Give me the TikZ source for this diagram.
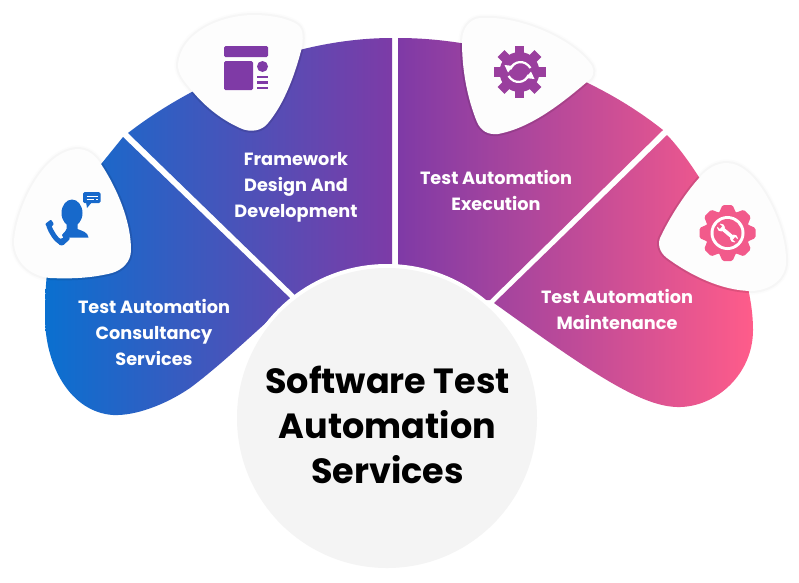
\documentclass[tikz,border=0pt]{standalone}
\usepackage{fontspec}
\setmainfont{Poppins}
\definecolor{gradA}{HTML}{0A70D0}
\definecolor{gradB}{HTML}{7F3AA6}
\definecolor{gradC}{HTML}{FF5C8A}
\definecolor{iconA}{HTML}{1769CB}
\definecolor{iconB}{HTML}{7F3AA6}
\definecolor{iconC}{HTML}{9A3F9E}
\definecolor{iconD}{HTML}{F25A8B}
\definecolor{haloOut}{HTML}{FCFCFC}
\definecolor{haloIn}{HTML}{F6F6F6}
\definecolor{blobfill}{HTML}{FDFDFD}
\definecolor{hubfill}{HTML}{F4F4F4}
\pgfdeclarehorizontalshading{bandgrad}{100bp}{color(0bp)=(gradA); color(25bp)=(gradA); color(50bp)=(gradB); color(75bp)=(gradC); color(100bp)=(gradC)}
\tikzset{
  bandlabel/.style={text=white,font=\fontsize{17.7}{17.7}\selectfont\bfseries,anchor=base,inner sep=0pt},
  hublabel/.style={text=black,font=\fontsize{35}{35}\selectfont\bfseries,anchor=base,inner sep=0pt},
  haloouter/.style={draw=haloOut,line width=7pt,line join=round},
  haloinner/.style={draw=haloIn,line width=4pt,line join=round},
  blobface/.style={fill=blobfill},
  blobshadow/.style={draw=black,draw opacity=.10,line width=4pt},
}
\def\blobA{(77,149) .. controls (88,149) and (95,155) .. (101,164) .. controls (118,190) and (131,222) .. (131,250) .. controls (131,262) and (122,270) .. (112,273) .. controls (92,278) and (72,279) .. (50,278) .. controls (30,276) and (15,262) .. (14,243) .. controls (14,218) and (38,152) .. (77,149) -- cycle}
\def\blobB{(254,15) .. controls (272,15) and (290,19) .. (298,25) .. controls (304,30) and (303,40) .. (302,47) .. controls (295,75) and (284,104) .. (268,123) .. controls (262,131) and (250,133) .. (240,128) .. controls (220,119) and (203,105) .. (189,87) .. controls (184,81) and (178,74) .. (178,65) .. controls (180,33) and (220,15) .. (254,15) -- cycle}
\def\blobC{(480,18) .. controls (520,15) and (575,40) .. (592,66) .. controls (595,72) and (593,78) .. (588,81) .. controls (560,105) and (530,128) .. (498,134) .. controls (488,135) and (481,131) .. (477,122) .. controls (468,100) and (462,72) .. (462,42) .. controls (462,28) and (470,19) .. (480,18) -- cycle}
\def\blobD{(727,163) .. controls (757,163) and (787,225) .. (786,262) .. controls (786,278) and (772,290) .. (752,291) .. controls (722,291) and (690,275) .. (667,258) .. controls (659,252) and (657,243) .. (661,236) .. controls (673,211) and (692,184) .. (705,172) .. controls (712,166) and (719,163) .. (727,163) -- cycle}
\begin{document}
\begin{tikzpicture}[x=1pt,y=-1pt]
\useasboundingbox (0,0) rectangle (799,582);
\fill[white] (0,0) rectangle (799,582);
% halos lie under the coloured bands
\foreach \b in {\blobA,\blobB,\blobC,\blobD}{\path[haloouter] \b;}
\foreach \b in {\blobA,\blobB,\blobC,\blobD}{\path[haloinner] \b;}
% gradient bands
\begin{scope}
\clip (123,137) -- (292,300) .. controls (262,325) and (225,362) .. (190,388) .. controls (165,405) and (135,416) .. (113,415) .. controls (70,412) and (45,365) .. (45,317) .. controls (45,280) and (48,250) .. (60,215) -- cycle
 (128,133) .. controls (190,85) and (290,38) .. (392,38) -- (392,300) -- (296,296) -- cycle
 (398,38) .. controls (490,38) and (590,72) .. (663,130) -- (490,300) -- (398,300) -- cycle
 (667,135) .. controls (690,158) and (753,250) .. (753,330) .. controls (753,375) and (715,408) .. (677,407) .. controls (640,406) and (590,372) .. (494,303) -- cycle;
\path[shading=bandgrad] (45,0) rectangle (753,582);
\path[blobshadow] \blobA;
\path[blobshadow] \blobB;
\path[blobshadow] \blobC;
\path[blobshadow] \blobD;
\end{scope}
% central disc
\fill[white] (387,418) circle[radius=154];
\fill[hubfill] (387,418) circle[radius=150];
% white blobs
\path[blobface] \blobA;
\path[blobface] \blobB;
\path[blobface] \blobC;
\path[blobface] \blobD;
% icon 1: person on the phone
\begin{scope}[iconA]
\fill (72,213) ellipse[x radius=10.5,y radius=13.5];
\fill (66.5,222) -- (77.5,222) -- (77.5,229) .. controls (82,231) and (88,232) .. (88.5,237.5) -- (68,237.5) -- (64,239.5) -- (62,235) .. controls (64,232) and (66.5,231) .. (66.5,229) -- cycle;
\draw[line width=5pt,line cap=round] (49,226) .. controls (51,232) and (56,240) .. (61,242.5);
\fill[rounded corners=1pt] (59,239) -- (69,236.5) -- (70,239) -- (63,245.5) -- (59,245) -- cycle;
\fill[rounded corners=1pt] (45,224) -- (51,219.5) -- (54,224) -- (49,229) -- cycle;
\fill[rounded corners=1.5pt] (83,192) rectangle (100.5,203);
\fill (86,202) -- (92,202) -- (87,208) -- cycle;
\draw[white,line width=1pt] (86.5,196) -- (97.5,196) (86.5,199.5) -- (94,199.5) (96,199.5) -- (97.5,199.5);
\end{scope}
% icon 2: page layout
\begin{scope}[iconB]
\fill[rounded corners=1.5pt] (224,46) rectangle (268,57);
\fill[rounded corners=1.5pt] (224,61) rectangle (253,90);
\fill (262.5,66.5) circle[radius=5.5];
\fill (257,75.5) rectangle (268,78);
\fill (257,81) rectangle (268,83.5);
\fill (257,86.5) rectangle (268,89);
\end{scope}
% icon 3: gear with arrows
\begin{scope}[shift={(519.5,72)},iconC]
\fill (0,0) circle[radius=20];
\foreach \a in {0,45,...,315}{\fill[rotate=\a] (-4.8,-26) rectangle (4.8,-15);}
\draw[white,line width=2.2pt] (-9,-3) .. controls (-6,-11) and (5,-13) .. (11,-4);
\draw[white,line width=2.2pt] (9,3) .. controls (6,11) and (-5,13) .. (-11,4);
\fill[white] (-15,-7) -- (-6,-6) -- (-11.5,0.5) -- cycle;
\fill[white] (15,7) -- (6,6) -- (11.5,-0.5) -- cycle;
\end{scope}
% icon 4: gear with wrench
\begin{scope}[shift={(727.5,233)},iconD]
\fill (0,0) circle[radius=22.5];
\foreach \a in {0,45,...,315}{\fill[rotate=\a,rounded corners=1.5pt] (-9,-19) -- (-5,-28) -- (5,-28) -- (9,-19) -- cycle;}
\fill[white] (0,0) circle[radius=17];
\fill (0,0) circle[radius=14];
\begin{scope}[rotate=-40]
\draw[white,line width=3.6pt] (-7,0) -- (7,0);
\fill[white] (-8.5,0) circle[radius=3.9];
\fill[white] (8.5,0) circle[radius=3.9];
\fill (-13,-1.7) rectangle (-8.5,1.7);
\fill (8.5,-1.7) rectangle (13,1.7);
\end{scope}
\end{scope}
% band labels
\node[bandlabel] (f1) at (296,165) {Framework};
\node[bandlabel] (f2) at (296,191) {Design And};
\node[bandlabel] (f3) at (296,217) {Development};
\node[bandlabel] (c1) at (154,313) {Test Automation};
\node[bandlabel] (c2) at (154,339) {Consultancy};
\node[bandlabel] (c3) at (154,365) {Services};
\node[bandlabel] (e1) at (496,184) {Test Automation};
\node[bandlabel] (e2) at (496,210) {Execution};
\node[bandlabel] (m1) at (617,303) {Test Automation};
\node[bandlabel] (m2) at (617,329) {Maintenance};
% title
\node[hublabel] (t1) at (387.5,393) {Software Test};
\node[hublabel] (t2) at (387.5,438) {Automation};
\node[hublabel] (t3) at (387.5,483) {Services};
\end{tikzpicture}
\end{document}
